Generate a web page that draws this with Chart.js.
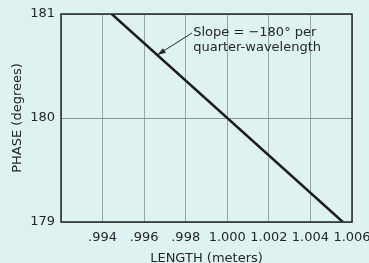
<!DOCTYPE html>
<html>
<head>
<meta charset="utf-8">
<script src="https://cdn.jsdelivr.net/npm/chart.js@4"></script>
<style>
  html, body { margin: 0; padding: 0; background: #dff2f2; }
  #wrap { width: 369px; height: 263px; }
</style>
</head>
<body>
<div id="wrap"><canvas id="canvas" width="369" height="263"></canvas></div>
<script>
// data
let lengths = [0.99444, 1.00556];   // x, meters
let phases = [181, 179];            // y, degrees
let xTicks = [0.992, 0.994, 0.996, 0.998, 1.000, 1.002, 1.004, 1.006];
let yTicks = [179, 180, 181];
let noteLines = ['Slope = \u2212180\u00b0 per', 'quarter-wavelength'];
let noteAt = { x: 0.99836, y: [180.817, 180.673] };
let arrowFrom = { x: 0.99830, y: 180.817 };
let arrowTo = { x: 0.99663, y: 180.606 };

const font = "'DejaVu Sans', 'Liberation Sans', sans-serif";
const ink = '#262626';

let canvas = document.getElementById('canvas');

// frame round the plot plus the slope note with its arrow
const extras = {
  id: 'extras',
  afterDatasetsDraw(chart) {
    const ctx = chart.ctx;
    const a = chart.chartArea;
    const xs = chart.scales.x, ys = chart.scales.y;
    ctx.save();
    ctx.strokeStyle = ink;
    ctx.lineWidth = 1.5;
    ctx.strokeRect(a.left, a.top, a.right - a.left, a.bottom - a.top);

    ctx.fillStyle = ink;
    ctx.font = '13px ' + font;
    ctx.textBaseline = 'middle';
    ctx.textAlign = 'left';
    noteLines.forEach((t, i) => {
      ctx.fillText(t, xs.getPixelForValue(noteAt.x), ys.getPixelForValue(noteAt.y[i]));
    });

    const x0 = xs.getPixelForValue(arrowFrom.x), y0 = ys.getPixelForValue(arrowFrom.y);
    const x1 = xs.getPixelForValue(arrowTo.x), y1 = ys.getPixelForValue(arrowTo.y);
    ctx.lineWidth = 1;
    ctx.beginPath();
    ctx.moveTo(x0, y0);
    ctx.lineTo(x1, y1);
    ctx.stroke();
    const ang = Math.atan2(y1 - y0, x1 - x0);
    ctx.beginPath();
    ctx.moveTo(x1, y1);
    ctx.lineTo(x1 - 9 * Math.cos(ang - 0.3), y1 - 9 * Math.sin(ang - 0.3));
    ctx.lineTo(x1 - 9 * Math.cos(ang + 0.3), y1 - 9 * Math.sin(ang + 0.3));
    ctx.closePath();
    ctx.fill();
    ctx.restore();
  }
};

new Chart(canvas, {
  type: 'scatter',
  data: {
    datasets: [{
      data: lengths.map((x, i) => ({ x: x, y: phases[i] })),
      showLine: true,
      borderColor: '#1c1c1c',
      borderWidth: 2.5,
      pointRadius: 0,
      fill: false
    }]
  },
  options: {
    responsive: false,
    animation: false,
    layout: { padding: { top: 14, right: 17, left: 0, bottom: 0 } },
    plugins: { legend: { display: false }, tooltip: { enabled: false } },
    scales: {
      x: {
        type: 'linear',
        min: xTicks[0],
        max: xTicks[xTicks.length - 1],
        afterBuildTicks: (s) => { s.ticks = xTicks.map(v => ({ value: v })); },
        afterFit: (s) => { s.height = 41; s.paddingLeft = 0; s.paddingRight = 0; },
        grid: { color: '#9aa6a6', lineWidth: 1, drawTicks: false },
        border: { display: false },
        ticks: {
          padding: 8,
          color: ink,
          font: { family: font, size: 13 },
          maxRotation: 0,
          autoSkip: false,
          callback: (v) => {
            if (Math.abs(v - xTicks[0]) < 1e-6) return '';
            const s = v.toFixed(3);
            return v < 1 ? s.slice(1) : s;
          }
        },
        title: {
          display: true,
          text: 'LENGTH (meters)',
          color: ink,
          font: { family: font, size: 13 },
          padding: { top: 0, bottom: -3 }
        }
      },
      y: {
        type: 'linear',
        min: yTicks[0],
        max: yTicks[yTicks.length - 1],
        afterBuildTicks: (s) => { s.ticks = yTicks.map(v => ({ value: v })); },
        afterFit: (s) => { s.width = 61; s.paddingTop = 0; s.paddingBottom = 0; },
        grid: { color: '#8a9494', lineWidth: 1, drawTicks: false },
        border: { display: false },
        ticks: {
          padding: 6,
          color: ink,
          font: { family: font, size: 13 }
        },
        title: {
          display: true,
          text: 'PHASE (degrees)',
          color: ink,
          font: { family: font, size: 13 },
          padding: { top: 10, bottom: 0 }
        }
      }
    }
  },
  plugins: [extras]
});
</script>
</body>
</html>
